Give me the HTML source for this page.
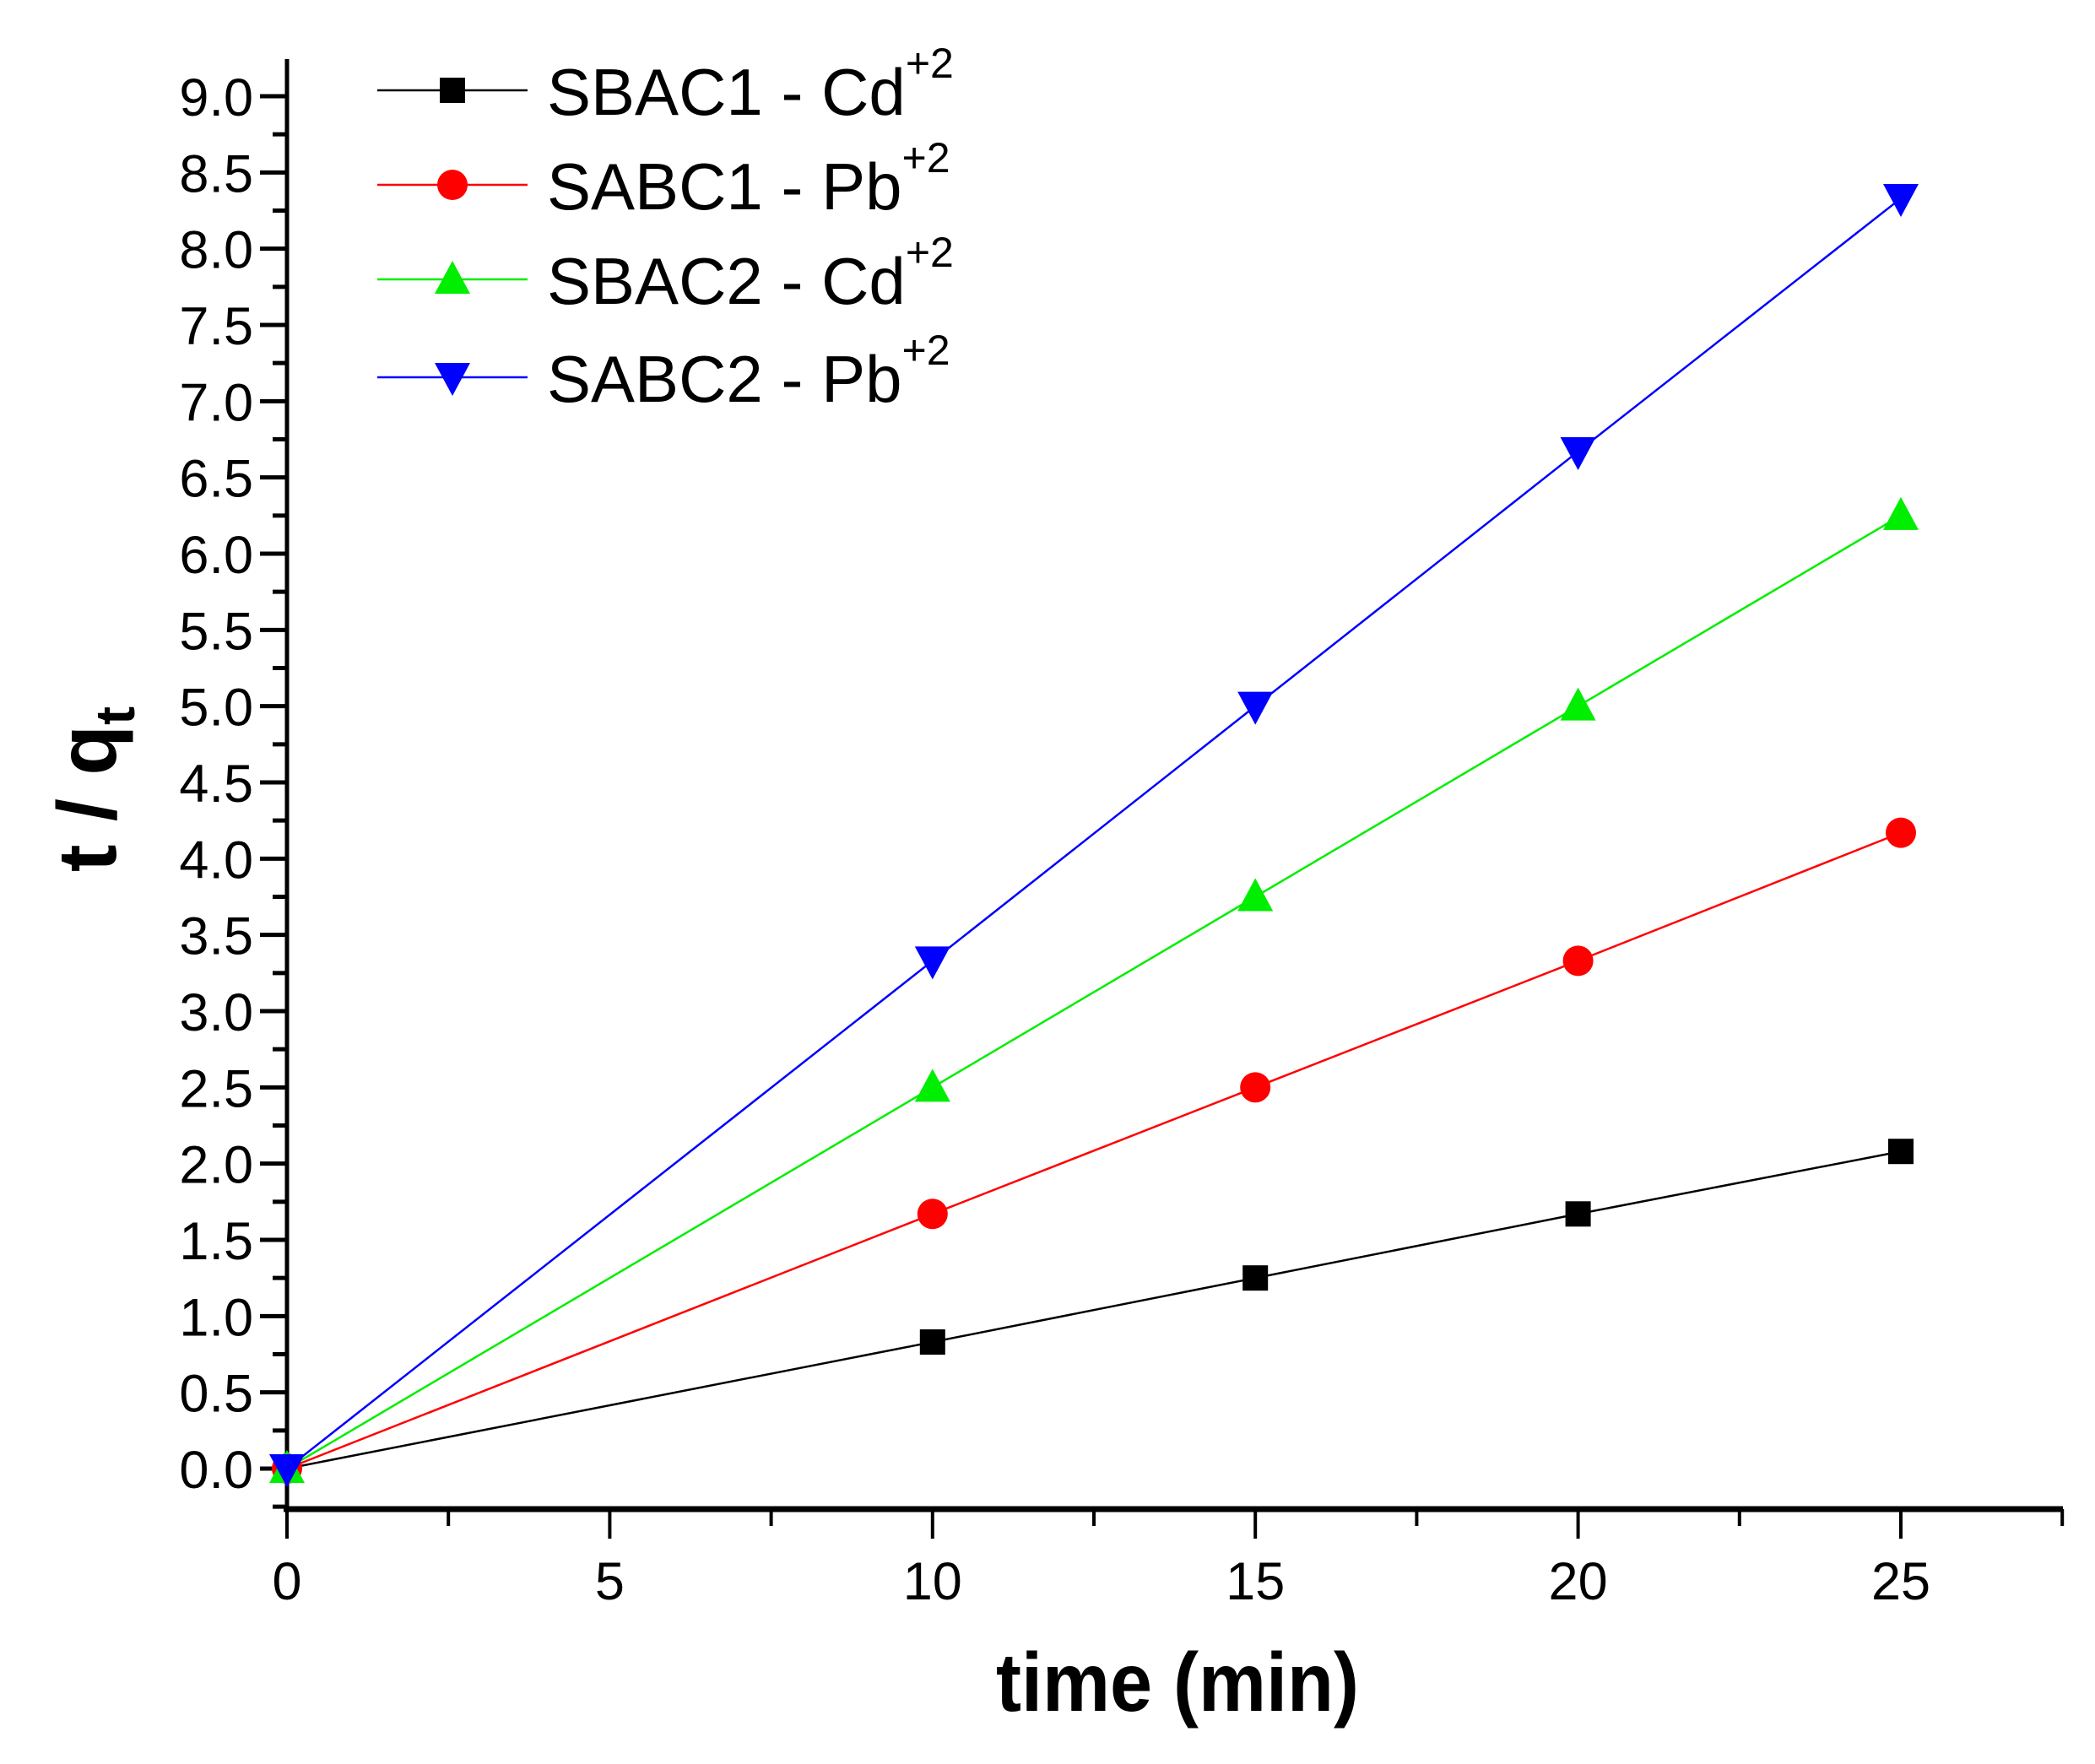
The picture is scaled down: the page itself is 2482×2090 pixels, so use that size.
<!DOCTYPE html>
<html><head><meta charset="utf-8"><style>
html,body{margin:0;padding:0;background:#fff;}
svg{display:block;font-family:"Liberation Sans",Arial,sans-serif;}
</style></head><body>
<svg id="chart" width="2482" height="2090" viewBox="0 0 2482 2090" xmlns="http://www.w3.org/2000/svg"></svg>
<script>
const xCategories = [0, 10, 15, 20, 25];
const seriesNames = ["SBAC1 - Cd", "SABC1 - Pb", "SBAC2 - Cd", "SABC2 - Pb"];
const sbac1Cd = [0, 0.83, 1.25, 1.67, 2.08];
const sabc1Pb = [0, 1.67, 2.5, 3.33, 4.17];
const sbac2Cd = [0, 2.5, 3.75, 5.0, 6.25];
const sabc2Pb = [0, 3.33, 5.0, 6.67, 8.33];
const xTickLabels = ["0","5","10","15","20","25"];
const yTickLabels = ["0.0","0.5","1.0","1.5","2.0","2.5","3.0","3.5","4.0","4.5","5.0","5.5","6.0","6.5","7.0","7.5","8.0","8.5","9.0"];

const svg = document.getElementById('chart');
const NS = 'http://www.w3.org/2000/svg';
const X0 = 340, X25 = 2252, Y0 = 1740, Y9 = 114;
const xs = v => X0 + (X25 - X0) * v / 25;
const ys = v => Y0 + (Y9 - Y0) * v / 9;
const axLeft = 340, axBottom = 1788, axRight = 2444, axTop = 70;

function mk(tag, attrs, parent) {
  const e = document.createElementNS(NS, tag);
  for (const k in attrs) e.setAttribute(k, attrs[k]);
  (parent || svg).appendChild(e);
  return e;
}

const axes = mk('g', {});


const ya = mk('line', {x1: axLeft, y1: axTop, x2: axLeft, y2: axBottom + 2, stroke: '#000', 'stroke-width': 5}, axes);


const xa = mk('line', {x1: axLeft - 4, y1: axBottom, x2: axRight, y2: axBottom, stroke: '#000', 'stroke-width': 7}, axes);



for (let i = 0; i < yTickLabels.length; i++) {
  const v = i * 0.5, y = ys(v);
  const t = mk('line', {x1: axLeft - 32, y1: y, x2: axLeft, y2: y, stroke: '#000', 'stroke-width': 5}, axes);
  
  
  const l = mk('text', {x: axLeft - 40, y: y + 23, 'text-anchor': 'end', 'font-size': 63}, axes);
  l.textContent = yTickLabels[i];
  
  
  const ym = ys(v + 0.25);
  if (ym > axTop) {
    const m = mk('line', {x1: axLeft - 17, y1: ym, x2: axLeft, y2: ym, stroke: '#000', 'stroke-width': 5}, axes);
    
    
  }
}
const ymb = ys(-0.25);
const mb = mk('line', {x1: axLeft - 17, y1: ymb, x2: axLeft, y2: ymb, stroke: '#000', 'stroke-width': 5}, axes);



for (let i = 0; i < xTickLabels.length; i++) {
  const v = i * 5, x = xs(v);
  const t = mk('line', {x1: x, y1: axBottom, x2: x, y2: axBottom + 35, stroke: '#000', 'stroke-width': 4}, axes);
  
  
  const l = mk('text', {x: x, y: axBottom + 107, 'text-anchor': 'middle', 'font-size': 63}, axes);
  l.textContent = xTickLabels[i];
  
  
  const m = mk('line', {x1: xs(v + 2.5), y1: axBottom, x2: xs(v + 2.5), y2: axBottom + 20, stroke: '#000', 'stroke-width': 4}, axes);
  
  
}

const xt = mk('text', {x: 1395, y: 2027, 'text-anchor': 'middle', 'font-size': 98, 'font-weight': 'bold', textLength: 430, lengthAdjust: 'spacingAndGlyphs'});
xt.textContent = 'time (min)';


const yt = mk('text', {x: 0, y: 0, 'text-anchor': 'middle', 'font-size': 98, 'font-weight': 'bold', transform: 'translate(137,935) rotate(-90)'});
yt.innerHTML = 't / q<tspan font-size="66" dy="22">t</tspan>';



const colors = ['#000000', '#ff0000', '#00ee00', '#0000ff'];
const allSeries = [sbac1Cd, sabc1Pb, sbac2Cd, sabc2Pb];
const shapes = ['square', 'circle', 'up', 'down'];
const sups = ['+2', '+2', '+2', '+2'];

function marker(shape, cx, cy, color, parent) {
  let e;
  if (shape === 'square') e = mk('rect', {x: cx - 15, y: cy - 15, width: 30, height: 30, fill: color}, parent);
  else if (shape === 'circle') e = mk('circle', {cx: cx, cy: cy, r: 18, fill: color}, parent);
  else if (shape === 'up') e = mk('polygon', {points: `${cx},${cy-22} ${cx+21},${cy+17} ${cx-21},${cy+17}`, fill: color}, parent);
  else e = mk('polygon', {points: `${cx},${cy+22} ${cx+21},${cy-17} ${cx-21},${cy-17}`, fill: color}, parent);
  return e;
}

allSeries.forEach((data, si) => {
  const g = mk('g', {});
  
  
  const pts = data.map((v, i) => xs(xCategories[i]) + ',' + ys(v)).join(' ');
  const pl = mk('polyline', {points: pts, fill: 'none', stroke: colors[si], 'stroke-width': 2.5}, g);
  
  
  data.forEach((v, i) => {
    const m = marker(shapes[si], xs(xCategories[i]), ys(v), colors[si], g);
    
    
  });
});

const legend = mk('g', {});


const rowY = [107, 219, 331, 447];
seriesNames.forEach((name, si) => {
  const y = rowY[si];
  const e = mk('g', {}, legend);
  
  
  mk('line', {x1: 447, y1: y, x2: 625, y2: y, stroke: colors[si], 'stroke-width': 2.5}, e);
  marker(shapes[si], 536, y, colors[si], e);
  const t = mk('text', {x: 648, y: y + 29, 'font-size': 78}, e);
  t.innerHTML = name + '<tspan font-size="50" dy="-44">' + sups[si] + '</tspan>';
});
</script>
</body></html>
